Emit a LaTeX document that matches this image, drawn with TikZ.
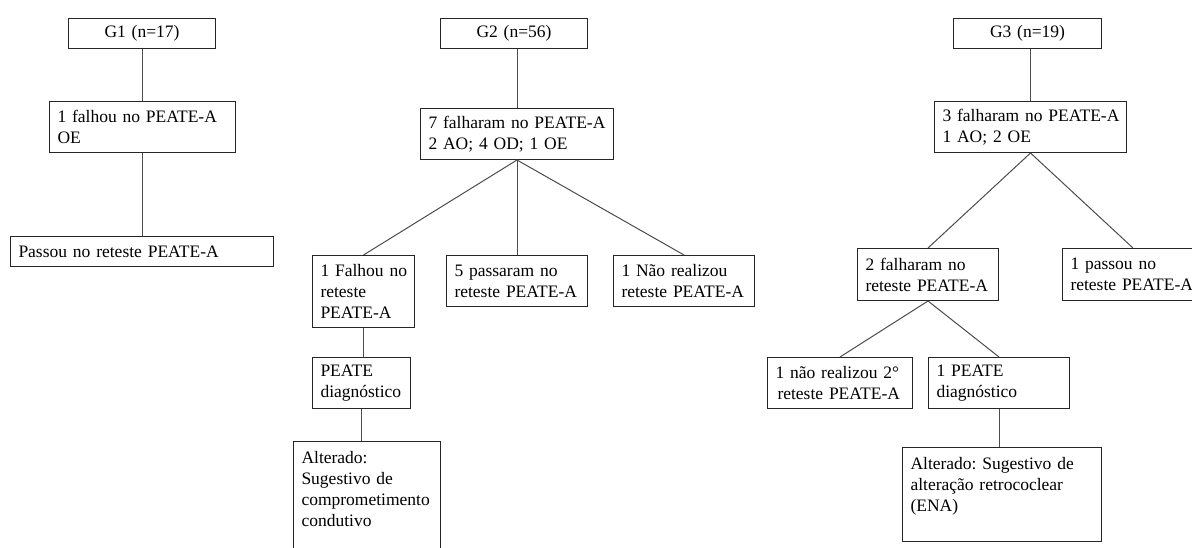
\documentclass[tikz,border=0pt]{standalone}
\usepackage{fontspec}
\setmainfont{Liberation Serif}
\usepackage{tikz}
\usetikzlibrary{positioning}
\frenchspacing

\begin{document}
\begin{tikzpicture}[
    x=1pt, y=-1pt,
    font=\fontsize{17.5}{21}\selectfont,
    box/.style={draw=black!85, line width=1pt, anchor=north west, align=left, inner xsep=8pt, inner ysep=3pt},
    head/.style={box, align=center},
    link/.style={draw=black!70, line width=1pt}
]
\useasboundingbox (0,0) rectangle (1192,548);

% G1
\node[head, text width=131pt, minimum height=30pt] (g1) at (68,18) {G1 (n=17)};
\node[box, text width=170pt, minimum height=51pt] (g1fail) at (49,101) {1 falhou no PEATE-A\\OE};
\node[box, text width=247pt, minimum height=30pt] (g1pass) at (10,236) {Passou no reteste PEATE-A};

% G2
\node[head, text width=131pt, minimum height=30pt] (g2) at (440,18) {G2 (n=56)};
\node[box, text width=177pt, minimum height=51pt] (g2fail) at (420,108) {\mbox{7 falharam no PEATE-A}\\2 AO; 4 OD; 1 OE};
\node[box, text width=86pt, minimum height=72pt] (g2ret) at (312,255) {\mbox{1 Falhou no}\\reteste\\PEATE-A};
\node[box, text width=125pt, minimum height=51pt] (g2pass) at (446,255) {5 passaram no\\reteste PEATE-A};
\node[box, text width=125pt, minimum height=51pt] (g2nao) at (613,255) {1 Não realizou\\reteste PEATE-A};
\node[box, text width=82pt, minimum height=51pt] (g2diag) at (312,357) {PEATE\\diagnóstico};
\node[box, text width=131pt, minimum height=116pt] (g2alt) at (293,441) {Alterado:\\Sugestivo de\\comprometimento\\condutivo\\\mbox{}};

% G3
\node[head, text width=132pt, minimum height=30pt] (g3) at (953,18) {G3 (n=19)};
\node[box, text width=176pt, minimum height=51pt] (g3fail) at (934,101) {\mbox{3 falharam no PEATE-A}\\1 AO; 2 OE};
\node[box, text width=125pt, minimum height=52pt] (g3ret) at (857,248) {2 falharam no\\reteste PEATE-A};
\node[box, text width=125pt, minimum height=52pt] (g3pass) at (1062,248) {1 passou no\\reteste PEATE-A};
\node[box, text width=129pt, minimum height=51pt] (g3nao) at (767,357) {\mbox{1 não realizou 2°}\\\hspace{2pt}reteste PEATE-A};
\node[box, text width=125pt, minimum height=51pt] (g3diag) at (928,357) {1 PEATE\\diagnóstico};
\node[box, text width=183pt, minimum height=94pt] (g3alt) at (902,447) {\mbox{Alterado: Sugestivo de}\\alteração retrococlear\\(ENA)\\\mbox{}};

% connectors
\draw[link] (g1fail.north |- g1.south) -- (g1fail.north);
\draw[link] (g1fail.south) -- (g1fail.south |- g1pass.north);

\draw[link] (g2fail.north |- g2.south) -- (g2fail.north);
\draw[link] (g2fail.south) -- (g2ret.north);
\draw[link] (g2fail.south) -- (g2pass.north);
\draw[link] (g2fail.south) -- (g2nao.north);
\draw[link] (g2ret.south) -- (g2ret.south |- g2diag.north);
\draw[link] (g2diag.south) -- (g2diag.south |- g2alt.north);

\draw[link] (g3fail.north |- g3.south) -- (g3fail.north);
\draw[link] (g3fail.south) -- (g3ret.north);
\draw[link] (g3fail.south) -- (g3pass.north);
\draw[link] (g3ret.south) -- (g3nao.north);
\draw[link] (g3ret.south) -- (g3diag.north);
\draw[link] (g3diag.south) -- (g3diag.south |- g3alt.north);
\end{tikzpicture}
\end{document}
